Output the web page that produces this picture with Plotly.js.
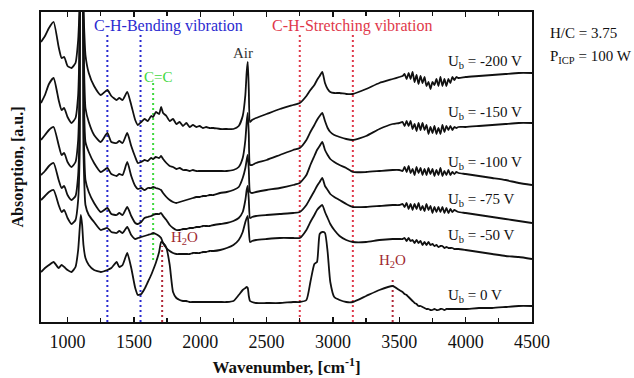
<!DOCTYPE html>
<html>
<head>
<meta charset="utf-8">
<script src="https://cdn.plot.ly/plotly-3.0.1.min.js"></script>
<style>
  html, body { margin: 0; padding: 0; background: #ffffff; }
  #chart { width: 634px; height: 378px; }
</style>
</head>
<body>
<div id="chart"></div>
<script>
// FTIR absorption spectra of a-C:H films deposited at different bias voltages (H/C = 3.75, P_ICP = 100 W).
// Spectra are vertically offset; absorption in arbitrary units.
const wavenumber = [
  800, 830, 860, 895, 933, 955, 975, 1000, 1030, 1060, 1080, 1092, 1100, 1110, 1120, 1135, 1160, 1200, 1250, 1300, 1330, 1370, 1390, 1415, 1450, 1480, 1510, 1530,
  1555, 1580, 1605, 1630, 1645, 1665, 1690, 1705, 1720, 1745, 1770, 1795, 1820, 1845, 1870, 1895, 1920, 1945, 1970, 1995, 2020, 2045, 2070, 2100,
  2150, 2200, 2250, 2290, 2320, 2340, 2350, 2358, 2366, 2375, 2390, 2420, 2500, 2600, 2700, 2750,
  2800, 2830, 2860, 2880, 2900, 2920, 2940, 2960, 2980, 3010, 3050, 3100, 3150, 3250, 3350, 3450, 3500,
  3525, 3540, 3555, 3570, 3585, 3600, 3615, 3630, 3645, 3660, 3675, 3690, 3705, 3720, 3735, 3750, 3765, 3780, 3795, 3810, 3825, 3840, 3855, 3870, 3885, 3900, 3915, 3930, 3945,
  4000, 4100, 4200, 4300, 4400, 4500
];

const absUbMinus200 = [
  280, 286, 294, 300, 275, 264, 265, 256, 254, 259, 282, 317, 342, 342, 312, 267, 249, 236, 227, 232, 226, 222, 224, 222, 230, 217, 202, 197,
  200, 203, 201, 206, 205, 210, 208, 215, 209, 206, 201, 203, 198, 200, 196, 199, 195, 197, 195, 196, 194, 195, 194, 194,
  193, 193, 193, 196, 206, 227, 250, 260, 232, 200, 202, 204, 208, 213, 217, 219,
  226, 232, 237, 242, 246, 250, 239, 233, 230, 229, 229, 228, 228, 233, 239, 243, 245,
  246, 248, 243, 249, 243, 250, 240, 247, 238, 246, 239, 245, 236, 240, 233, 240, 237, 243, 236, 245, 236, 243, 236, 243, 239, 245, 242, 245, 244,
  245, 246, 247, 248, 249, 249
];
const absUbMinus150 = [
  219, 227, 238, 244, 222, 212, 214, 205, 199, 204, 227, 282, 342, 342, 282, 214, 200, 187, 180, 189, 180, 179, 181, 179, 189, 176, 165, 159,
  160, 162, 161, 164, 163, 165, 164, 166, 163, 159, 156, 155, 153, 154, 152, 152, 151, 152, 151, 151, 151, 151, 151, 151,
  151, 151, 152, 155, 164, 182, 200, 209, 187, 157, 157, 159, 162, 167, 172, 174,
  182, 190, 197, 202, 206, 209, 201, 194, 190, 187, 185, 183, 182, 186, 193, 198, 199,
  200, 196, 201, 196, 201, 193, 198, 191, 199, 192, 199, 192, 197, 188, 195, 189, 196, 188, 194, 188, 197, 190, 196, 192, 196, 192, 195, 194, 195,
  195, 196, 197, 198, 199, 199
];
const absUbMinus100 = [
  182, 187, 192, 195, 177, 167, 169, 160, 155, 160, 182, 242, 342, 342, 242, 180, 170, 159, 150, 154, 148, 146, 148, 147, 160, 146, 136, 133,
  134, 132, 134, 134, 135, 134, 133, 132, 129, 125, 122, 120, 119, 120, 121, 122, 123, 124, 125, 125, 126, 126, 127, 127,
  129, 130, 132, 135, 144, 154, 162, 167, 152, 130, 129, 130, 132, 134, 137, 139,
  147, 157, 166, 172, 176, 180, 172, 167, 163, 160, 157, 154, 150, 150, 151, 152, 152,
  151, 155, 150, 156, 149, 153, 147, 155, 149, 154, 147, 153, 147, 154, 148, 153, 146, 152, 147, 154, 146, 151, 147, 152, 147, 150, 148, 150, 149,
  148, 146, 144, 142, 139, 137
];
const absUbMinus75 = [
  147, 151, 156, 159, 142, 134, 136, 127, 122, 126, 147, 202, 342, 342, 202, 142, 130, 119, 110, 114, 108, 107, 109, 107, 115, 106, 99, 98,
  100, 104, 105, 106, 107, 108, 108, 109, 106, 102, 97, 94, 92, 92, 93, 93, 94, 94, 95, 95, 96, 96, 96, 97,
  98, 99, 101, 104, 110, 122, 132, 136, 122, 104, 105, 106, 107, 108, 109, 110,
  117, 124, 131, 136, 140, 144, 136, 132, 128, 125, 122, 118, 115, 115, 116, 117, 117,
  118, 115, 119, 113, 118, 112, 118, 113, 119, 112, 116, 111, 118, 112, 116, 109, 115, 110, 115, 110, 115, 109, 114, 109, 113, 110, 112, 111, 110,
  109, 107, 105, 103, 101, 99
];
const absUbMinus50 = [
  122, 126, 130, 132, 117, 110, 112, 104, 98, 102, 122, 172, 342, 342, 172, 117, 107, 100, 92, 94, 90, 89, 91, 89, 95, 87, 83, 84,
  85, 86, 87, 88, 89, 88, 86, 84, 79, 74, 71, 69, 68, 68, 68, 68, 68, 69, 69, 69, 70, 70, 71, 71,
  72, 74, 77, 82, 90, 100, 104, 106, 92, 80, 81, 82, 83, 84, 84, 84,
  92, 100, 107, 112, 115, 117, 110, 104, 98, 92, 86, 82, 80, 80, 82, 83, 83,
  83, 84, 81, 84, 81, 82, 79, 82, 79, 81, 77, 80, 77, 80, 77, 78, 76, 77, 75, 76, 76, 74, 75, 74, 74, 74, 73, 73, 73,
  72, 70, 68, 66, 65, 63
];
const absUb0 = [
  50, 54, 57, 60, 54, 57, 55, 52, 50, 55, 72, 94, 107, 97, 77, 64, 57, 52, 50, 52, 54, 60, 55, 57, 69, 54, 34, 27,
  28, 33, 40, 47, 52, 59, 70, 80, 79, 74, 57, 30, 24, 22, 21, 21, 20, 20, 20, 20, 20, 20, 20, 20,
  20, 20, 21, 27, 32, 34, 35, 34, 26, 21, 20, 19, 19, 19, 20, 20,
  22, 40, 58, 60, 88, 90, 89, 70, 40, 25, 22, 20, 20, 26, 32, 36, 32,
  30, 28, 27, 25, 23, 21, 19, 18, 16, 16, 15, 14, 13, 13, 12, 12, 13, 12, 12, 13, 13, 12, 13, 13, 13, 13, 13, 13, 13,
  13, 14, 14, 15, 16, 16
];

const biasVoltages = ['-200', '-150', '-100', '-75', '-50', '0'];
const spectra = [absUbMinus200, absUbMinus150, absUbMinus100, absUbMinus75, absUbMinus50, absUb0];

// Band positions marked with dotted guides
const bendingBands = [1300, 1550];
const ccBands = [1645];
const stretchingBands = [2750, 3150];
const waterBands = [1713, 3450];

const serif = 'Liberation Serif, Times New Roman, serif';

const traces = spectra.map((y, i) => ({
  type: 'scatter',
  mode: 'lines',
  x: wavenumber,
  y: y,
  name: 'U_b = ' + biasVoltages[i] + ' V',
  line: { color: '#111111', width: 1.8, shape: 'spline', smoothing: 0.5 },
  showlegend: false,
  hoverinfo: 'skip'
}));

function vline(x, y0, y1, color) {
  return {
    type: 'line', xref: 'x', yref: 'y', x0: x, x1: x, y0: y0, y1: y1,
    line: { color: color, width: 2, dash: '2px,3px' }, layer: 'below'
  };
}

const shapes = []
  .concat(bendingBands.map(w => vline(w, 0, 289, '#2a2ad0')))
  .concat(ccBands.map(w => vline(w, 62, 239, '#3ed83e')))
  .concat(stretchingBands.map(w => vline(w, 0, 289, '#e0384a')))
  .concat([vline(waterBands[0], 0, 76, '#b02838'), vline(waterBands[1], 0, 45, '#b02838')]);

// Label heights for the bias-voltage tags (same order as biasVoltages)
const tagHeights = [260, 209, 159, 122, 86, 26];

const annotations = [
  { x: 1758, y: 296, xref: 'x', yref: 'y', text: 'C-H-Bending vibration', showarrow: false,
    font: { family: serif, size: 16, color: '#2a2ad0' } },
  { x: 3143, y: 296, xref: 'x', yref: 'y', text: 'C-H-Stretching vibration', showarrow: false,
    font: { family: serif, size: 16, color: '#e0384a' } },
  { x: 1683, y: 245, xref: 'x', yref: 'y', text: 'C=C', showarrow: false,
    font: { family: serif, size: 15, color: '#3ed83e' } },
  { x: 2320, y: 269, xref: 'x', yref: 'y', text: 'Air', showarrow: false,
    font: { family: serif, size: 15, color: '#333333' } },
  { x: 1885, y: 84, xref: 'x', yref: 'y', text: 'H<sub>2</sub>O', showarrow: false,
    font: { family: serif, size: 15, color: '#a02a30' } },
  { x: 3445, y: 61, xref: 'x', yref: 'y', text: 'H<sub>2</sub>O', showarrow: false,
    font: { family: serif, size: 15, color: '#a02a30' } },
  { x: 1.033, y: 0.965, xref: 'paper', yref: 'paper', xanchor: 'left', text: 'H/C = 3.75', showarrow: false,
    font: { family: serif, size: 15, color: '#111111' } },
  { x: 1.033, y: 0.89, xref: 'paper', yref: 'paper', xanchor: 'left', text: 'P<sub>ICP</sub> = 100 W', showarrow: false,
    font: { family: serif, size: 15, color: '#111111' } }
].concat(biasVoltages.map((v, i) => ({
  x: 3850, y: tagHeights[i], xref: 'x', yref: 'y', xanchor: 'left',
  text: 'U<sub>b</sub> = ' + v + ' V', showarrow: false,
  font: { family: serif, size: 15, color: '#111111' }
})));

const layout = {
  width: 634, height: 378,
  margin: { l: 41, r: 102, t: 12, b: 56 },
  paper_bgcolor: '#ffffff', plot_bgcolor: '#ffffff',
  showlegend: false,
  xaxis: {
    range: [800, 4500], tick0: 1000, dtick: 500,
    ticks: 'inside', ticklen: 5, tickwidth: 1.3, tickcolor: '#111111',
    minor: { tick0: 750, dtick: 250, ticks: 'inside', ticklen: 4, tickwidth: 1.3, tickcolor: '#111111' },
    showline: true, linecolor: '#111111', linewidth: 1.6, mirror: 'allticks',
    showgrid: false, zeroline: false,
    ticklabelstandoff: 3,
    tickfont: { family: serif, size: 18, color: '#111111' },
    title: { text: 'Wavenumber, [cm<sup>-1</sup>]', standoff: 10,
      font: { family: serif, size: 17, color: '#111111', weight: 'bold' } }
  },
  yaxis: {
    range: [0, 310], showticklabels: false, ticks: '',
    showline: true, linecolor: '#111111', linewidth: 1.6, mirror: true,
    showgrid: false, zeroline: false,
    title: { text: 'Absorption, [a.u.]', standoff: 12,
      font: { family: serif, size: 16, color: '#111111', weight: 'bold' } }
  },
  shapes: shapes,
  annotations: annotations
};

Plotly.newPlot('chart', traces, layout, { staticPlot: true, displayModeBar: false });
</script>
</body>
</html>
